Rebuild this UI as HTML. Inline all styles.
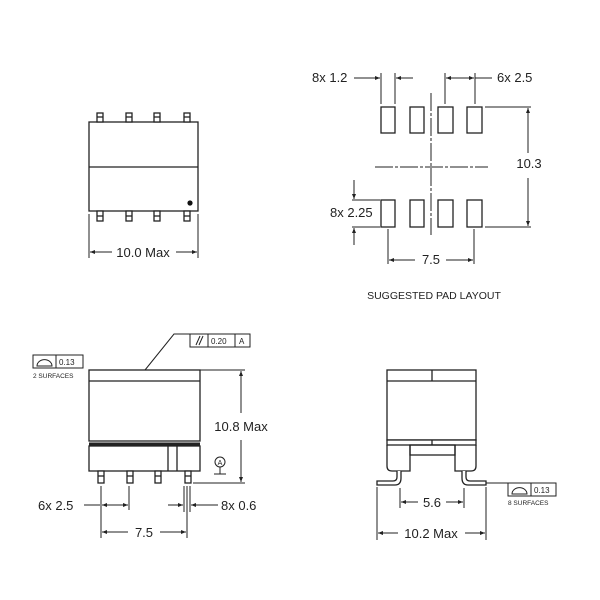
<!DOCTYPE html>
<html><head><style>body{margin:0;background:#fff}svg{display:block}text{font-family:"Liberation Sans",sans-serif;fill:#222}</style></head><body>
<svg width="600" height="600" viewBox="0 0 600 600" xmlns="http://www.w3.org/2000/svg">
<defs><marker id="a" viewBox="0 0 10 10" refX="10" refY="5" markerWidth="7" markerHeight="5" orient="auto-start-reverse"><path d="M0,1 L10,5 L0,9 z" fill="#222"/></marker></defs>
<g stroke="#222" stroke-width="1.3" fill="none">
<!-- top view -->
<rect x="89" y="122" width="109" height="89" fill="#fff"/>
<line x1="89" y1="167" x2="198" y2="167"/>
<g fill="#fff">
<rect x="97" y="113" width="6" height="9"/><rect x="126" y="113" width="6" height="9"/><rect x="154" y="113" width="6" height="9"/><rect x="184" y="113" width="6" height="9"/>
<rect x="97" y="211" width="6" height="10"/><rect x="126" y="211" width="6" height="10"/><rect x="154" y="211" width="6" height="10"/><rect x="184" y="211" width="6" height="10"/>
</g>
<line x1="97" y1="117" x2="103" y2="117"/><line x1="126" y1="117" x2="132" y2="117"/><line x1="154" y1="117" x2="160" y2="117"/><line x1="184" y1="117" x2="190" y2="117"/>
<line x1="97" y1="216" x2="103" y2="216"/><line x1="126" y1="216" x2="132" y2="216"/><line x1="154" y1="216" x2="160" y2="216"/><line x1="184" y1="216" x2="190" y2="216"/>
<line x1="89" y1="214" x2="89" y2="258" stroke-width="1"/><line x1="198" y1="214" x2="198" y2="258" stroke-width="1"/>
<line x1="90" y1="252" x2="112" y2="252" stroke-width="1" marker-start="url(#a)"/><line x1="176" y1="252" x2="197" y2="252" stroke-width="1" marker-end="url(#a)"/>
<!-- pad layout -->
<rect x="381" y="107" width="14" height="26"/><rect x="410" y="107" width="14" height="26"/><rect x="438" y="107" width="15" height="26"/><rect x="467" y="107" width="15" height="26"/>
<rect x="381" y="200" width="14" height="27"/><rect x="410" y="200" width="14" height="27"/><rect x="438" y="200" width="15" height="27"/><rect x="467" y="200" width="15" height="27"/>
<line x1="431" y1="93" x2="431" y2="235" stroke-width="1" stroke-dasharray="18,2,3,2"/>
<line x1="375" y1="167" x2="488" y2="167" stroke-width="1" stroke-dasharray="18,2,3,2"/>
<g stroke-width="1">
<line x1="485" y1="107" x2="531" y2="107"/><line x1="485" y1="227" x2="531" y2="227"/>
<line x1="528" y1="108" x2="528" y2="153" marker-start="url(#a)"/><line x1="528" y1="178" x2="528" y2="226" marker-end="url(#a)"/>
<line x1="388" y1="229" x2="388" y2="264"/><line x1="474" y1="229" x2="474" y2="264"/>
<line x1="389" y1="260" x2="415" y2="260" marker-start="url(#a)"/><line x1="446" y1="260" x2="473" y2="260" marker-end="url(#a)"/>
<line x1="381" y1="73" x2="381" y2="104"/><line x1="395" y1="73" x2="395" y2="104"/>
<line x1="354" y1="78" x2="380" y2="78" marker-end="url(#a)"/><line x1="396" y1="78" x2="413" y2="78" marker-start="url(#a)"/>
<line x1="445" y1="73" x2="445" y2="104"/><line x1="475" y1="73" x2="475" y2="104"/>
<line x1="446" y1="78" x2="474" y2="78" marker-start="url(#a)" marker-end="url(#a)"/><line x1="475" y1="78" x2="492" y2="78"/>
<line x1="352" y1="200" x2="380" y2="200"/><line x1="352" y1="227" x2="380" y2="227"/>
<line x1="354" y1="180" x2="354" y2="199" marker-end="url(#a)"/><line x1="354" y1="228" x2="354" y2="245" marker-start="url(#a)"/>
</g>
<!-- side view left -->
<rect x="89" y="370" width="111" height="71" fill="#fff"/>
<line x1="89" y1="381" x2="200" y2="381"/>
<line x1="89" y1="444" x2="200" y2="444" stroke-width="3"/>
<rect x="89" y="446" width="111" height="25" fill="#fff"/>
<line x1="168" y1="446" x2="168" y2="471"/><line x1="177" y1="446" x2="177" y2="471"/>
<g fill="#fff"><rect x="98" y="471" width="6" height="12"/><rect x="127" y="471" width="6" height="12"/><rect x="155" y="471" width="6" height="12"/><rect x="185" y="471" width="6" height="12"/></g>
<line x1="98" y1="476" x2="104" y2="476"/><line x1="127" y1="476" x2="133" y2="476"/><line x1="155" y1="476" x2="161" y2="476"/><line x1="185" y1="476" x2="191" y2="476"/>
<g stroke-width="1">
<line x1="200" y1="370" x2="245" y2="370"/><line x1="193" y1="483" x2="245" y2="483"/>
<line x1="241" y1="371" x2="241" y2="413" marker-start="url(#a)"/><line x1="241" y1="440" x2="241" y2="482" marker-end="url(#a)"/>
<line x1="101" y1="486" x2="101" y2="538"/><line x1="129" y1="486" x2="129" y2="510"/>
<line x1="84" y1="505" x2="100" y2="505"/><line x1="102" y1="505" x2="128" y2="505" marker-start="url(#a)" marker-end="url(#a)"/>
<line x1="184" y1="486" x2="184" y2="512"/><line x1="187" y1="486" x2="187" y2="538"/><line x1="190" y1="486" x2="190" y2="512"/>
<line x1="168" y1="505" x2="183" y2="505" marker-end="url(#a)"/><line x1="208" y1="505" x2="191" y2="505" marker-end="url(#a)"/><line x1="208" y1="505" x2="218" y2="505"/>
<line x1="102" y1="532" x2="128" y2="532" marker-start="url(#a)"/><line x1="160" y1="532" x2="186" y2="532" marker-end="url(#a)"/>
<circle cx="220" cy="462" r="5"/><line x1="220" y1="467" x2="220" y2="474"/><line x1="214" y1="474" x2="226" y2="474"/>
<polyline points="145,370 174,334 190,334"/>
</g>
<rect x="190" y="334" width="60" height="13" stroke-width="1"/><line x1="208" y1="334" x2="208" y2="347" stroke-width="1"/><line x1="235" y1="334" x2="235" y2="347" stroke-width="1"/>
<line x1="196" y1="345" x2="200" y2="336" stroke-width="1"/><line x1="199" y1="345" x2="203" y2="336" stroke-width="1"/>
<rect x="33" y="355" width="50" height="13" stroke-width="1"/><line x1="56" y1="355" x2="56" y2="368" stroke-width="1"/>
<path d="M37,366 A7,6 0 0 1 52,366 Z" stroke-width="1"/>
<!-- side view right -->
<rect x="387" y="370" width="89" height="70" fill="#fff"/>
<line x1="387" y1="381" x2="476" y2="381"/><line x1="432" y1="370" x2="432" y2="381"/>
<rect x="387" y="440" width="89" height="5" fill="#fff"/><line x1="432" y1="440" x2="432" y2="445"/>
<path d="M387,445 V466 Q387,471 392,471 H410 V445 M455,445 V471 H471 Q476,471 476,466 V445"/>
<rect x="410" y="445" width="45" height="10"/>
<path d="M397,471 V477 Q397,481 393,481 H377 V485 H395 Q401,485 401,478 V471" fill="#fff"/>
<path d="M466,471 V477 Q466,481 470,481 H486 V485 H468 Q462,485 462,478 V471" fill="#fff"/>
<g stroke-width="1">
<line x1="377" y1="487" x2="377" y2="540"/><line x1="486" y1="487" x2="486" y2="540"/>
<line x1="400" y1="488" x2="400" y2="508"/><line x1="464" y1="488" x2="464" y2="508"/>
<line x1="401" y1="502" x2="418" y2="502" marker-start="url(#a)"/><line x1="446" y1="502" x2="463" y2="502" marker-end="url(#a)"/>
<line x1="378" y1="533" x2="398" y2="533" marker-start="url(#a)"/><line x1="465" y1="533" x2="485" y2="533" marker-end="url(#a)"/>
<line x1="486" y1="483" x2="508" y2="483"/>
</g>
<rect x="508" y="483" width="48" height="13" stroke-width="1"/><line x1="531" y1="483" x2="531" y2="496" stroke-width="1"/>
<path d="M512,494 A7,6 0 0 1 527,494 Z" stroke-width="1"/>
</g>
<circle cx="190" cy="203" r="2.6" fill="#111"/>
<g font-size="13">
<text x="143" y="257" text-anchor="middle">10.0 Max</text>
<text x="312" y="82">8x 1.2</text>
<text x="497" y="82">6x 2.5</text>
<text x="529" y="168" text-anchor="middle">10.3</text>
<text x="330" y="217">8x 2.25</text>
<text x="431" y="264" text-anchor="middle">7.5</text>
<text x="241" y="431" text-anchor="middle">10.8 Max</text>
<text x="38" y="510">6x 2.5</text>
<text x="221" y="510">8x 0.6</text>
<text x="144" y="537" text-anchor="middle">7.5</text>
<text x="432" y="507" text-anchor="middle">5.6</text>
<text x="431" y="538" text-anchor="middle">10.2 Max</text>
</g>
<text x="434" y="299" font-size="10.5" text-anchor="middle">SUGGESTED PAD LAYOUT</text>
<g font-size="8">
<text x="59" y="365">0.13</text><text x="211" y="344">0.20</text><text x="239" y="344">A</text>
<text x="534" y="493">0.13</text>
<text x="220" y="465" text-anchor="middle" font-size="7">A</text>
</g>
<g font-size="6.5"><text x="33" y="378">2 SURFACES</text><text x="508" y="505">8 SURFACES</text></g>
</svg>
</body></html>
